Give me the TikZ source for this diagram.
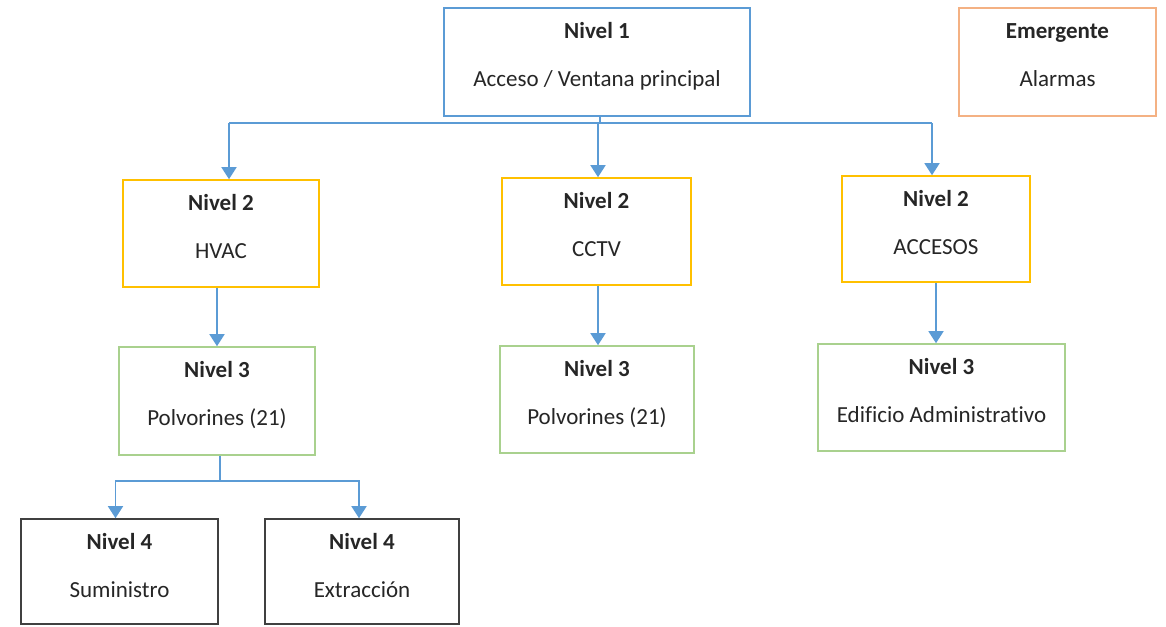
\documentclass[tikz,border=0pt]{standalone}
\usepackage{fontspec}
\setmainfont[Ligatures=NoCommon]{Carlito}
\usetikzlibrary{arrows.meta}

\definecolor{lineblue}{HTML}{5B9BD5}
\definecolor{boxorange}{HTML}{F4B183}
\definecolor{boxyellow}{HTML}{FFC000}
\definecolor{boxgreen}{HTML}{A9D18E}
\definecolor{boxgray}{HTML}{404040}
\definecolor{txt}{HTML}{262626}

\tikzset{
  box/.style={draw, line width=1.6pt, fill=white, inner sep=0pt},
  ttl/.style={font=\fontsize{23}{28}\selectfont\bfseries, text=txt, inner sep=0pt, anchor=base},
  sub/.style={font=\fontsize{23}{28}\selectfont, text=txt, inner sep=0pt, anchor=base},
  conn/.style={draw=lineblue, line width=1.6pt},
  arr/.style={conn, -{Triangle[width=15pt,length=12pt]}},
}

% #1 name, #2 colour, #3 left, #4 top, #5 right, #6 bottom, #7 title, #8 text
\newcommand\levelbox[8]{%
  \node[box, draw=#2, minimum width={#5-#3}, minimum height={#6-#4}]
    (#1) at ({(#3+#5)/2},{(#4+#6)/2}) {};
  \node[ttl] (#1-t) at ([yshift=-31pt]#1.north) {#7};
  \node[sub] (#1-s) at ([yshift=-79pt]#1.north) {#8};
}

\begin{document}
\begin{tikzpicture}[x=1pt,y=-1pt]
\useasboundingbox (0,0) rectangle (1166,626);

% level 1 and the stand-alone box
\levelbox{n1}{lineblue}{444}{8}{750}{116}{Nivel 1}{Acceso / Ventana principal}
\levelbox{em}{boxorange}{959}{8}{1156}{116}{Emergente}{Alarmas}

% level 2
\levelbox{hvac}{boxyellow}{123}{180}{319}{287}{Nivel 2}{HVAC}
\levelbox{cctv}{boxyellow}{502}{178}{691}{285}{Nivel 2}{CCTV}
\levelbox{acc}{boxyellow}{842}{176}{1030}{282}{Nivel 2}{ACCESOS}

% level 3
\levelbox{pa}{boxgreen}{119}{347}{315}{455}{Nivel 3}{Polvorines (21)}
\levelbox{pb}{boxgreen}{500}{346}{694}{453}{Nivel 3}{Polvorines (21)}
\levelbox{ed}{boxgreen}{818}{344}{1065}{451}{Nivel 3}{Edificio Administrativo}

% level 4
\levelbox{sum}{boxgray}{21}{519}{218}{624}{Nivel 4}{Suministro}
\levelbox{ext}{boxgray}{265}{519}{459}{624}{Nivel 4}{Extracción}

% level 1 -> level 2
\coordinate (hub1) at (600,123);
\coordinate (hubL) at (229,123);
\coordinate (hubR) at (932,123);
\draw[conn] ([xshift=3pt]n1.south) -- (hub1);
\draw[conn] (hubL) -- (hubR);
\draw[arr] (hubL) -- (hubL |- hvac.north);
\draw[arr] (598,123) -- (598,0 |- cctv.north);
\draw[arr] (hubR) -- (hubR |- acc.north);

% level 2 -> level 3
\draw[arr] ([xshift=-4pt]hvac.south) -- ([xshift=-4pt]hvac.south |- pa.north);
\draw[arr] ([xshift=1.5pt]cctv.south) -- ([xshift=1.5pt]cctv.south |- pb.north);
\draw[arr] (acc.south) -- (acc.south |- ed.north);

% level 3 -> level 4
\coordinate (hub3) at (220,481);
\draw[conn] (pa.south -| hub3) -- (hub3);
\draw[arr] (hub3) -| ([xshift=-4pt]sum.north);
\draw[arr] (hub3) -| ([xshift=-3pt]ext.north);
\end{tikzpicture}
\end{document}
